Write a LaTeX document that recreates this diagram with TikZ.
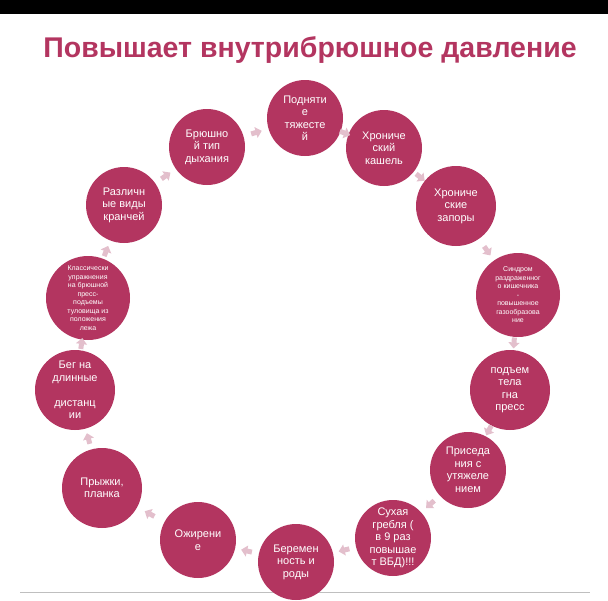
\documentclass[tikz,border=0pt]{standalone}
\usepackage{fontspec}
\setmainfont{Liberation Sans}
\usetikzlibrary{arrows.meta,calc}
\definecolor{berry}{HTML}{B33560}
\definecolor{arr}{HTML}{E3BFCC}
\begin{document}
\begin{tikzpicture}[x=1pt,y=-1pt,
  c/.style={circle,fill=berry,text=white,align=center,inner sep=0pt,font=\fontsize{11}{12.5}\selectfont},
  cs/.style={c,font=\fontsize{7}{8.5}\selectfont},
  ar/.style={arr,line width=5pt,-{Triangle[length=6pt,width=11pt]}}]
\useasboundingbox (0,0) rectangle (608,600);
\fill[black] (0,0) rectangle (608,14);
\node[text=berry,font=\bfseries\fontsize{28.5}{32}\selectfont] (t) at (310,50) {Повышает внутрибрюшное давление};
\draw[gray!50] (20,592) -- (590,592);
\node[c,minimum size=76pt] (n1) at (305,118) {Подняти\\е\\тяжесте\\й};
\node[c,minimum size=76pt] (n2) at (384,148) {Хрониче\\ский\\кашель};
\node[c,minimum size=80pt] (n3) at (456,206) {Хрониче\\ские\\запоры};
\node[cs,minimum size=84pt] (n4) at (518,295) {Синдром\\раздраженног\\о кишечника\\-\\повышенное\\газообразова\\ние};
\node[c,minimum size=80pt] (n5) at (510,390) {подъем\\тела\\гна\\пресс};
\node[c,minimum size=76pt] (n6) at (468,470) {Приседа\\ния с\\утяжеле\\нием};
\node[c,minimum size=76pt] (n7) at (393,538) {Сухая\\гребля (\\в 9 раз\\повышае\\т ВБД)!!!};
\node[c,minimum size=76pt] (n8) at (296,562) {Беремен\\ность и\\роды};
\node[c,minimum size=76pt] (n9) at (198,540) {Ожирени\\е};
\node[c,minimum size=80pt] (n10) at (102,488) {Прыжки,\\планка};
\node[c,minimum size=80pt] (n11) at (75,390) {Бег на\\длинные\\\\дистанц\\ии};
\node[cs,minimum size=84pt] (n12) at (88,298) {Классически\\упражнения\\на брюшной\\пресс-\\подъемы\\туловища из\\положения\\лежа};
\node[c,minimum size=76pt] (n13) at (124,205) {Различн\\ые виды\\кранчей};
\node[c,minimum size=76pt] (n14) at (207,147) {Брюшно\\й тип\\дыхания};
\foreach \a/\b in {n1/n2,n2/n3,n3/n4,n4/n5,n5/n6,n6/n7,n7/n8,n8/n9,n9/n10,n10/n11,n11/n12,n12/n13,n13/n14,n14/n1}
  \draw[ar] ($(\a)!0.5!(\b)!5pt!(\a)$) -- ($(\a)!0.5!(\b)!6pt!(\b)$);
\end{tikzpicture}
\end{document}
